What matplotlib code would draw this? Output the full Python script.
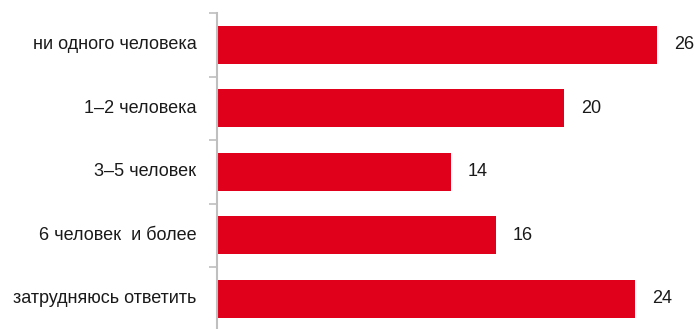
import matplotlib
matplotlib.use("Agg")
import matplotlib.pyplot as plt
import numpy as np

plt.rcParams['font.family'] = ['Liberation Sans', 'DejaVu Sans']

categories = ['ни одного человека', '1–2 человека', '3–5 человек',
              '6 человек  и более', 'затрудняюсь ответить']
values = [25.6, 20.2, 13.6, 16.2, 24.3]

bar_color = '#E0001B'
axis_color = '#BFBFBF'

fig = plt.figure(figsize=(6.96, 3.29), dpi=100)
ax = fig.add_axes([217 / 696, -0.005, 1 - 217 / 696, 0.9655])

y = np.arange(len(categories))
bars = ax.barh(y, values, height=0.6, color=bar_color)

ax.set_ylim(len(categories) - 0.5, -0.5)
ax.set_xlim(0, 27.85)

# value labels to the right of each bar
for bar, v in zip(bars, values):
    ax.text(bar.get_width() + 1.0, bar.get_y() + bar.get_height() / 2,
            f'{v:.0f}', ha='left', va='center', fontsize=13, color='#1a1a1a',
            clip_on=False)

# category labels
for yi, lab in zip(y, categories):
    ax.text(-1.2, yi, lab, ha='right', va='center', fontsize=13,
            color='#1a1a1a', clip_on=False)

# axis: only left spine, ticks at category boundaries
for s in ['top', 'right', 'bottom']:
    ax.spines[s].set_visible(False)
ax.spines['left'].set_color(axis_color)
ax.spines['left'].set_linewidth(1.5)
ax.set_yticks(np.arange(-0.5, len(categories), 1.0))
ax.set_yticklabels([])
ax.tick_params(axis='y', length=6, width=1.2, color=axis_color, direction='out')
ax.set_xticks([])

fig.savefig('out.png', dpi=100)
